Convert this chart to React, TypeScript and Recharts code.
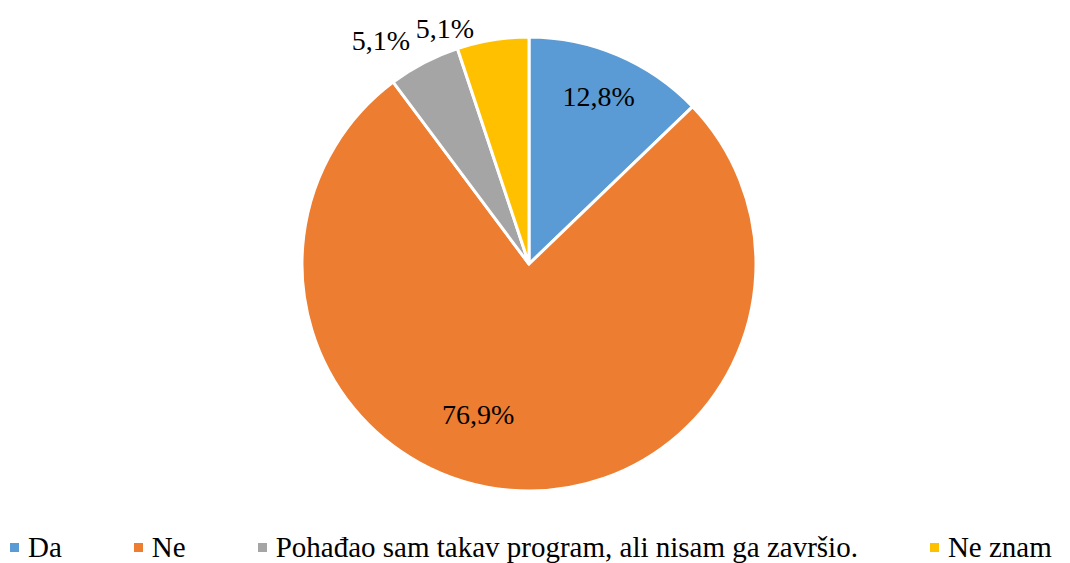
import React from 'react'
import { PieChart, Pie, Cell, Legend } from 'recharts'

const categories = ['Da', 'Ne', 'Pohađao sam takav program, ali nisam ga završio.', 'Ne znam']
const shares = [12.8, 76.9, 5.1, 5.1]
const labels = ['12,8%', '76,9%', '5,1%', '5,1%']
const colors = ['#5B9BD5', '#ED7D31', '#A5A5A5', '#FFC000']

const data = categories.map((name, i) => ({ name, value: shares[i], label: labels[i] }))

// label placement tweaks (radius factor, angle shift in degrees)
const labelPos = [
  { r: 0.8, shift: 0.5 },
  { r: 0.7, shift: -14 },
  { r: 1.18, shift: 6 },
  { r: 1.1, shift: 10.5 },
]

const RADIAN = Math.PI / 180
const FONT = '"Liberation Serif", "Times New Roman", "DejaVu Serif", serif'

const renderLabel = (props: any) => {
  const { cx, cy, midAngle, outerRadius, index } = props
  const p = labelPos[index]
  const a = (midAngle + p.shift) * RADIAN
  const r = outerRadius * p.r
  const x = cx + r * Math.cos(a)
  const y = cy - r * Math.sin(a)
  return (
    <text x={x} y={y} fill="#000" fontSize={28} fontFamily={FONT}
          textAnchor="middle" dominantBaseline="central">
      {data[index].label}
    </text>
  )
}

const renderLegend = () => (
  <div style={{ display: 'flex', fontFamily: FONT, fontSize: 29, lineHeight: '32px', color: '#000', paddingLeft: 10 }}>
    {data.map((d, i) => (
      <div key={d.name} style={{ display: 'flex', alignItems: 'center', marginRight: 72, whiteSpace: 'nowrap' }}>
        <span style={{ display: 'inline-block', width: 9, height: 9, background: colors[i], marginRight: 9 }} />
        <span>{d.name}</span>
      </div>
    ))}
  </div>
)

export default function App() {
  return (
    <div style={{ position: 'absolute', left: 0, top: 0, width: 1070, height: 563, background: '#fff' }}>
      <PieChart width={1070} height={563} margin={{ top: 0, right: 0, bottom: 0, left: 0 }}>
        <Pie
          data={data}
          dataKey="value"
          nameKey="name"
          cx={529}
          cy={264}
          outerRadius={227}
          startAngle={90}
          endAngle={-270}
          stroke="#fff"
          strokeWidth={3}
          label={renderLabel}
          labelLine={false}
          isAnimationActive={false}
        >
          {data.map((d, i) => (
            <Cell key={d.name} fill={colors[i]} />
          ))}
        </Pie>
        <Legend content={renderLegend} wrapperStyle={{ left: 0, top: 531, width: 1070 }} />
      </PieChart>
    </div>
  )
}
